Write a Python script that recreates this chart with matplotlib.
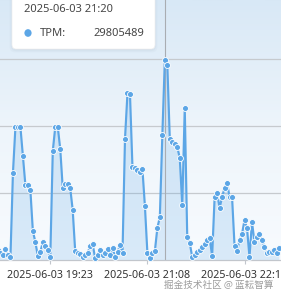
import numpy as np
import matplotlib
matplotlib.use('Agg')
import matplotlib.pyplot as plt
from matplotlib.patches import FancyBboxPatch, Circle
from matplotlib.colors import LinearSegmentedColormap

# TPM values (millions), one per sample on the category axis
tpm = [1.49, 1.04, 0.75, 1.64, 0.75, 0.45, 12.99, 19.85, 19.85, 19.85,
       15.52, 11.19, 11.19, 10.45, 4.33, 2.69, 0.60, 1.19, 2.69, 2.09,
       1.49, 0.45, 16.27, 19.85, 19.85, 16.57, 10.75, 11.34, 11.34, 10.75,
       7.46, 1.34, 1.04, 0.90, 0.45, 0.75, 1.04, 2.09, 2.39, 0.30,
       0.75, 1.49, 0.75, 1.04, 1.64, 0.75, 1.79, 0.45, 1.19, 2.24,
       1.04, 18.06, 24.93, 24.78, 13.88, 13.73, 13.43, 13.13, 13.58, 8.06,
       1.04, 0.30, 1.04, 1.34, 4.78, 6.42, 18.66, 29.805489, 29.10, 18.06,
       17.61, 17.31, 16.87, 15.22, 8.21, 22.69, 3.43, 2.54, 0.45, 0.75,
       1.19, 1.49, 1.94, 2.39, 2.99, 3.28, 0.60, 9.40, 10.00, 7.76,
       9.40, 10.75, 11.49, 9.40, 9.40, 2.09, 1.34, 2.99, 3.88, 5.97,
       4.78, 0.45, 5.67, 2.69, 3.43, 3.88, 2.99, 1.94, 1.04, 1.19,
       1.19, 1.49, 1.04, 1.79]

tick_idx = [21, 60, 99]
tick_labels = ['2025-06-03 19:23', '2025-06-03 21:08', '2025-06-03 22:18']

hover_idx = 67
hover_label = '2025-06-03 21:20'
series_name = 'TPM'

LINE = '#5ca6e6'
W, H = 281, 299

values = np.array(tpm) * 1e6
xs = np.arange(len(values))

fig = plt.figure(figsize=(W / 100, H / 100), dpi=100)
fig.patch.set_facecolor('white')

# plot area: full width, baseline at y=260 px
ax = fig.add_axes([0, 39 / H, 1, 260 / H])
s = 2.49
x0 = -2.0
ax.set_xlim((0 - x0) / s, (W - x0) / s)
ax.set_ylim(0, 38.8e6)

# background gradient
bg = LinearSegmentedColormap.from_list('bg', ['#f8fbfe', '#eef5fb', '#d8e8f6'])
grad = np.linspace(0, 1, 256).reshape(-1, 1)
ax.imshow(grad, aspect='auto', cmap=bg, origin='lower',
          extent=[0, 1, 0, 1], transform=ax.transAxes, zorder=0)

for gv in [1e7, 2e7, 3e7]:
    ax.axhline(gv, color='#c6cace', lw=0.9, zorder=1)

ax.fill_between(xs, values, 0, color=LINE, alpha=0.2, lw=0, zorder=2)
ax.axvline(hover_idx, color='#a9adb2', lw=0.8, zorder=2.5)
ax.plot(xs, values, color=LINE, lw=1.55, marker='o', ms=4.3,
        mfc=LINE, mec='white', mew=0.6, zorder=3, clip_on=False)

for sp in ['top', 'right', 'left']:
    ax.spines[sp].set_visible(False)
ax.spines['bottom'].set_color('#c2c6cc')
ax.spines['bottom'].set_linewidth(0.9)
ax.set_yticks([])
ax.set_xticks(tick_idx)
ax.set_xticklabels(tick_labels, fontsize=7.7, family='Noto Sans', color='#333333')
ax.tick_params(axis='x', length=3, width=0.8, color='#c2c6cc', pad=4.5)

# tooltip box (figure pixel coords, y down)
def fy(y):
    return (H - y) / H

def fx(x):
    return x / W

for i, a in enumerate([0.05, 0.04, 0.03]):
    d = 1.0 + i * 1.2
    sh = FancyBboxPatch((fx(12 - d + 1), fy(49 + d)), fx(143 + 2 * d - 2), fy(-10) - fy(49 + d),
                        boxstyle='round,pad=0,rounding_size=0.02',
                        transform=fig.transFigure, fc='#5a6a80', ec='none', alpha=a, zorder=5)
    fig.patches.append(sh)
box = FancyBboxPatch((fx(12), fy(49)), fx(143), fy(-10) - fy(49),
                     boxstyle='round,pad=0,rounding_size=0.015',
                     transform=fig.transFigure, fc='white', ec='#f0f0f0', lw=0.5, zorder=6)
fig.patches.append(box)
fig.text(fx(24), fy(10), hover_label, fontsize=8, family='Noto Sans', color='#464646',
         ha='left', va='center', zorder=7)
dot = Circle((fx(28), fy(33)), 3.6 / W, transform=fig.transFigure, fc=LINE, ec='none', zorder=7)
fig.patches.append(dot)
fig.text(fx(40), fy(33), series_name + ':', fontsize=8, family='Noto Sans', color='#464646',
         ha='left', va='center', zorder=7)
fig.text(fx(144), fy(33), str(int(round(tpm[hover_idx] * 1e6))), fontsize=8, family='Noto Sans',
         color='#464646', ha='right', va='center', zorder=7)

# watermark
fig.text(fx(273), fy(285), '掘金技术社区 @ 蓝耘智算', fontsize=6.9,
         family=['Noto Sans CJK SC', 'DejaVu Sans'], color='#9c9c9c', ha='right', va='center')

fig.savefig('out.png', dpi=100)
